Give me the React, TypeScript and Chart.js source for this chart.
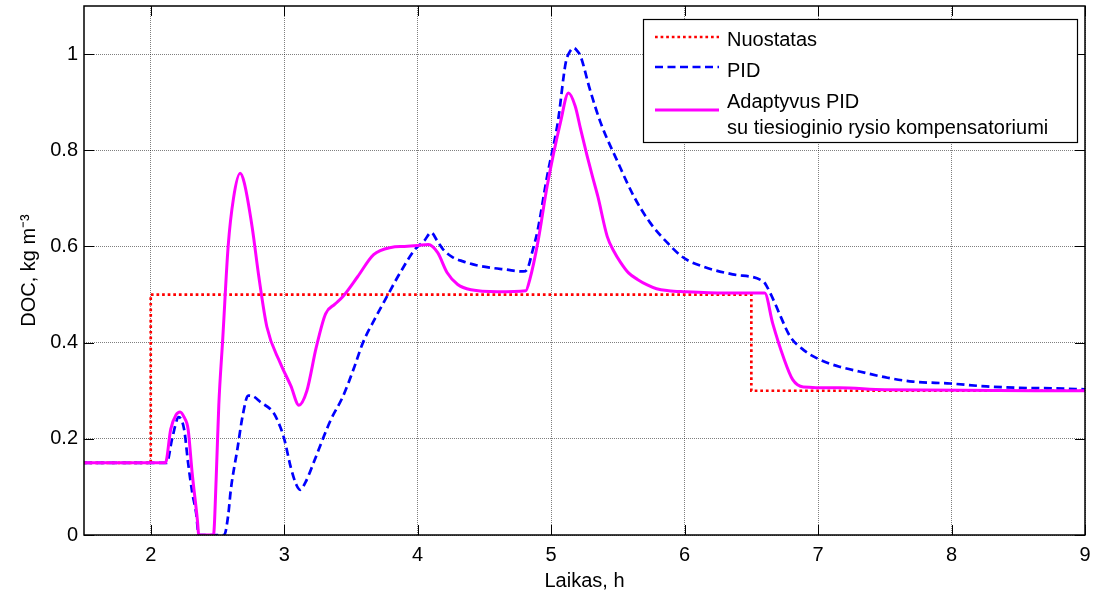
import React, { useEffect, useRef } from 'react';
import { Chart, registerables } from 'chart.js';

Chart.register(...registerables);

// ---- axis ticks ----
const xTickValues = [2, 3, 4, 5, 6, 7, 8, 9];
const yTickValues = [0, 0.2, 0.4, 0.6, 0.8, 1];

// ---- series: Nuostatas (setpoint) ----
const setpointTime = [1.5, 2, 2, 6.5, 6.5, 9];
const setpointValues = [0.15, 0.15, 0.5, 0.5, 0.3, 0.3];

// ---- series: PID ----
const pidTime = [
  1.5, 2.12, 2.16, 2.21, 2.25, 2.28, 2.31, 2.34, 2.36, 2.55, 2.58, 2.6, 2.65, 2.69, 2.73, 2.77,
  2.82, 2.92, 2.97, 3.0, 3.05, 3.09, 3.12, 3.16, 3.22, 3.29, 3.35, 3.44, 3.52, 3.59, 3.68, 3.77,
  3.87, 3.98, 4.05, 4.1, 4.15, 4.19, 4.26, 4.34, 4.44, 4.54, 4.66, 4.79, 4.82, 4.86, 4.9, 4.97,
  5.05, 5.11, 5.14, 5.17, 5.2, 5.22, 5.29, 5.37, 5.5, 5.62, 5.74, 5.87, 5.99, 6.14, 6.36, 6.59,
  6.61, 6.64, 6.68, 6.72, 6.79, 6.89, 7.01, 7.16, 7.31, 7.52, 7.71, 7.99, 8.26, 8.51, 8.75, 9.0,
];
const pidValues = [
  0.15, 0.15, 0.2, 0.245, 0.22, 0.15, 0.09, 0.046, 0, 0, 0.04, 0.094, 0.18, 0.25, 0.29, 0.288,
  0.277, 0.254, 0.225, 0.2, 0.14, 0.105, 0.094, 0.11, 0.15, 0.2, 0.24, 0.288, 0.345, 0.4, 0.45, 0.496,
  0.546, 0.594, 0.612, 0.629, 0.61, 0.594, 0.578, 0.569, 0.561, 0.556, 0.552, 0.548, 0.552, 0.59, 0.635, 0.746,
  0.858, 0.983, 1.005, 1.0125, 1.005, 0.996, 0.927, 0.858, 0.775, 0.704, 0.65, 0.608, 0.577, 0.558, 0.542, 0.527,
  0.52, 0.504, 0.48, 0.454, 0.413, 0.385, 0.365, 0.35, 0.34, 0.327, 0.319, 0.315, 0.309, 0.306, 0.305, 0.303,
];

// ---- series: Adaptyvus PID su tiesioginio rysio kompensatoriumi ----
const adaptiveTime = [
  1.5, 2.11, 2.15, 2.19, 2.22, 2.25, 2.28, 2.31, 2.35, 2.36, 2.47, 2.49, 2.51, 2.54, 2.58, 2.62,
  2.67, 2.7, 2.76, 2.81, 2.87, 2.97, 3.05, 3.11, 3.17, 3.24, 3.31, 3.38, 3.44, 3.55, 3.67, 3.8,
  3.9, 4.0, 4.08, 4.15, 4.22, 4.3, 4.4, 4.6, 4.81, 4.84, 4.9, 4.97, 5.07, 5.13, 5.18, 5.22,
  5.27, 5.31, 5.35, 5.42, 5.47, 5.52, 5.58, 5.65, 5.72, 5.79, 5.88, 5.99, 6.3, 6.6, 6.66, 6.74,
  6.81, 6.89, 7.16, 7.5, 9.0,
];
const adaptiveValues = [
  0.15, 0.15, 0.22, 0.25, 0.256, 0.245, 0.22, 0.13, 0.03, 0, 0, 0.115, 0.27, 0.41, 0.6, 0.7,
  0.752, 0.733, 0.64, 0.537, 0.433, 0.358, 0.31, 0.27, 0.3, 0.39, 0.46, 0.48, 0.496, 0.537, 0.583, 0.598,
  0.6, 0.602, 0.604, 0.587, 0.546, 0.521, 0.51, 0.506, 0.508, 0.531, 0.608, 0.725, 0.858, 0.919, 0.892, 0.845,
  0.788, 0.745, 0.704, 0.621, 0.59, 0.567, 0.545, 0.531, 0.52, 0.512, 0.508, 0.506, 0.503, 0.503, 0.44, 0.37,
  0.323, 0.308, 0.306, 0.302, 0.3,
];

// ---- labels ----
const seriesNames = ['Nuostatas', 'PID', 'Adaptyvus PID su tiesioginio rysio kompensatoriumi'];
const legendLines = [['Nuostatas'], ['PID'], ['Adaptyvus PID', 'su tiesioginio rysio kompensatoriumi']];
const xTitle = 'Laikas, h';
const yTitle = 'DOC, kg m\u207B\u00B3';

const FONT = "'Liberation Sans', Arial, sans-serif";
const RED = '#ff0000';
const BLUE = '#0000ff';
const MAGENTA = '#ff00ff';

const toPoints = (xs: number[], ys: number[]) => xs.map((x, i) => ({ x, y: ys[i] }));

const frameLegendPlugin = {
  id: 'frameLegend',
  afterDatasetsDraw(chart: any) {
    const { ctx, chartArea: a, scales } = chart;
    const TICK = 10;
    ctx.save();
    ctx.setLineDash([]);
    // ticks inward
    ctx.strokeStyle = '#000';
    ctx.lineWidth = 1;
    ctx.beginPath();
    xTickValues.forEach((v) => {
      const px = Math.round(scales.x.getPixelForValue(v)) + 0.5;
      ctx.moveTo(px, a.bottom);
      ctx.lineTo(px, a.bottom - TICK);
      ctx.moveTo(px, a.top);
      ctx.lineTo(px, a.top + TICK);
    });
    yTickValues.forEach((v) => {
      const py = Math.round(scales.y.getPixelForValue(v)) + 0.5;
      ctx.moveTo(a.left, py);
      ctx.lineTo(a.left + TICK, py);
      ctx.moveTo(a.right, py);
      ctx.lineTo(a.right - TICK, py);
    });
    ctx.stroke();
    // frame
    ctx.lineWidth = 1.5;
    ctx.strokeRect(a.left, a.top, a.right - a.left, a.bottom - a.top);

    // legend
    const boxW = 434;
    const boxH = 123;
    const bx = a.right - 8 - boxW;
    const by = a.top + 13;
    ctx.fillStyle = '#fff';
    ctx.fillRect(bx, by, boxW, boxH);
    ctx.lineWidth = 1.2;
    ctx.strokeStyle = '#000';
    ctx.strokeRect(bx + 0.5, by + 0.5, boxW, boxH);

    const samples = [
      { color: RED, dash: [2.7, 2.9], width: 2.7, y: 18 },
      { color: BLUE, dash: [8, 4.5], width: 2.7, y: 48 },
      { color: MAGENTA, dash: [], width: 3, y: 91 },
    ];
    const baselines = [[27], [58], [89, 115]];
    samples.forEach((s, i) => {
      ctx.save();
      ctx.strokeStyle = s.color;
      ctx.lineWidth = s.width;
      ctx.lineCap = 'butt';
      ctx.setLineDash(s.dash);
      ctx.beginPath();
      ctx.moveTo(bx + 12, by + s.y);
      ctx.lineTo(bx + 76, by + s.y);
      ctx.stroke();
      ctx.restore();
      ctx.fillStyle = '#000';
      ctx.font = `20px ${FONT}`;
      ctx.textBaseline = 'alphabetic';
      ctx.textAlign = 'left';
      legendLines[i].forEach((line, j) => {
        ctx.fillText(line, bx + 84, by + baselines[i][j]);
      });
    });
    ctx.restore();
  },
};

export default function App() {
  const canvasRef = useRef<HTMLCanvasElement | null>(null);

  useEffect(() => {
    if (!canvasRef.current) return;
    const chart = new Chart(canvasRef.current, {
      type: 'line',
      data: {
        datasets: [
          {
            label: seriesNames[0],
            data: toPoints(setpointTime, setpointValues),
            borderColor: RED,
            borderWidth: 2.7,
            borderDash: [2.7, 2.9],
            pointRadius: 0,
            tension: 0,
            fill: false,
            order: 3,
          },
          {
            label: seriesNames[1],
            data: toPoints(pidTime, pidValues),
            borderColor: BLUE,
            borderWidth: 2.7,
            borderDash: [8, 4.5],
            pointRadius: 0,
            cubicInterpolationMode: 'monotone',
            fill: false,
            order: 2,
          },
          {
            label: seriesNames[2],
            data: toPoints(adaptiveTime, adaptiveValues),
            borderColor: MAGENTA,
            borderWidth: 3,
            pointRadius: 0,
            cubicInterpolationMode: 'monotone',
            fill: false,
            order: 1,
          },
        ],
      },
      options: {
        responsive: false,
        animation: false,
        events: [],
        layout: { padding: { top: 6, right: 10, left: 0, bottom: 0 } },
        plugins: {
          legend: { display: false },
          tooltip: { enabled: false },
          title: { display: false },
        },
        scales: {
          x: {
            type: 'linear',
            min: 1.5,
            max: 9,
            afterBuildTicks: (s: any) => {
              s.ticks = xTickValues.map((v) => ({ value: v }));
            },
            afterFit: (s: any) => {
              s.height = 59;
              s.paddingLeft = 0;
              s.paddingRight = 0;
            },
            ticks: {
              autoSkip: false,
              maxRotation: 0,
              padding: 8,
              color: '#000',
              font: { family: FONT, size: 20 },
              callback: (v: any) => String(v),
            },
            grid: { color: 'rgba(0,0,0,0.5)', lineWidth: 1, drawTicks: false },
            border: { display: false, dash: [1, 1] },
            title: {
              display: true,
              text: xTitle,
              color: '#000',
              font: { family: FONT, size: 20 },
              padding: { top: 0, bottom: 1 },
            },
          },
          y: {
            type: 'linear',
            min: 0,
            max: 1.1,
            afterBuildTicks: (s: any) => {
              s.ticks = yTickValues.map((v) => ({ value: v }));
            },
            afterFit: (s: any) => {
              s.width = 84;
              s.paddingTop = 0;
              s.paddingBottom = 0;
            },
            ticks: {
              padding: 6,
              color: '#000',
              font: { family: FONT, size: 20 },
              callback: (v: any) => String(v),
            },
            grid: { color: 'rgba(0,0,0,0.5)', lineWidth: 1, drawTicks: false },
            border: { display: false, dash: [1, 1] },
            title: {
              display: true,
              text: yTitle,
              color: '#000',
              font: { family: FONT, size: 20 },
              padding: { top: 17, bottom: 0 },
            },
          },
        },
      },
      plugins: [frameLegendPlugin],
    } as any);
    return () => chart.destroy();
  }, []);

  return (
    <div style={{ position: 'absolute', left: 0, top: 0, width: 1095, height: 594, background: '#fff' }}>
      <canvas ref={canvasRef} width={1095} height={594} style={{ display: 'block' }} />
    </div>
  );
}
